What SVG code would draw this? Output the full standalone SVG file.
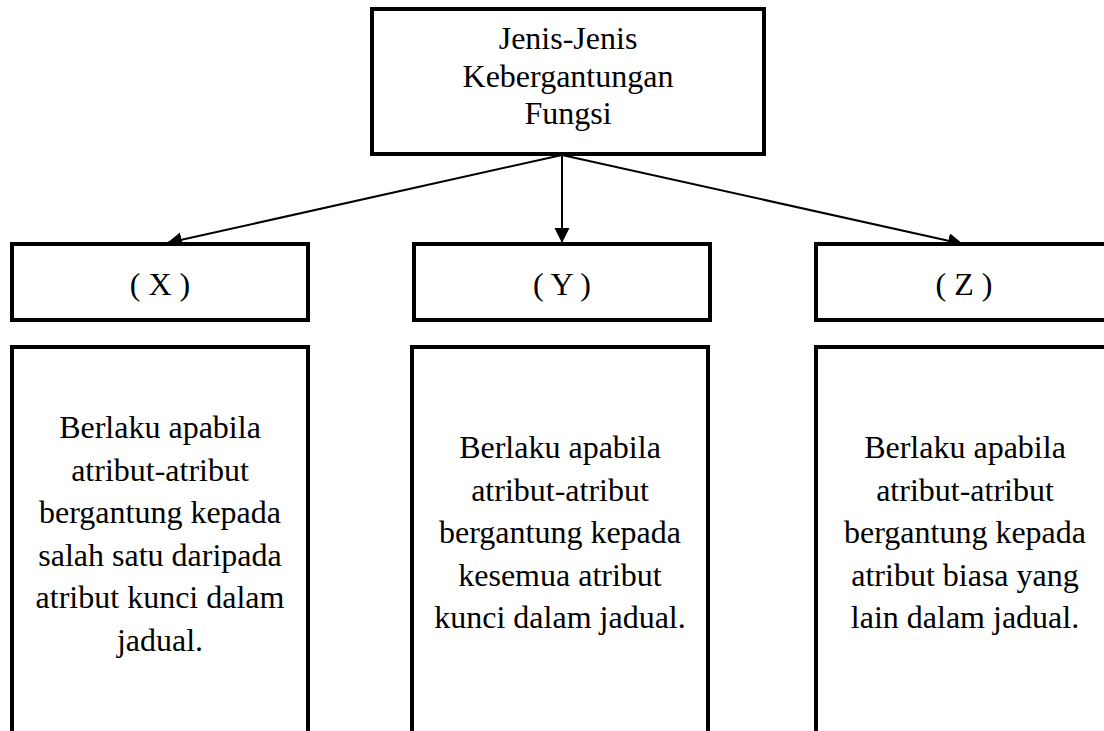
<svg xmlns="http://www.w3.org/2000/svg" width="1104" height="731" viewBox="0 0 1104 731">
<defs>
<style>
.box{fill:#fff;stroke:#000;stroke-width:4}
.t{font-family:"Liberation Serif","Times New Roman",serif;font-size:32px;fill:#000;text-anchor:middle}
.c{stroke:#000;stroke-width:2;fill:none}
</style>
<marker id="ah" markerUnits="userSpaceOnUse" markerWidth="16" markerHeight="16" refX="15" refY="7.5" orient="auto" viewBox="0 0 16 16">
<path d="M0,0 L15,7.5 L0,15 z" fill="#000"/>
</marker>
</defs>
<rect width="1104" height="731" fill="#fff"/>
<g id="root">
<rect class="box" x="372" y="9" width="392" height="145"/>
<text class="t" x="568" y="49">Jenis-Jenis</text>
<text class="t" x="568" y="87">Kebergantungan</text>
<text class="t" x="568" y="124">Fungsi</text>
</g>
<g id="connectors">
<line class="c" x1="562" y1="155" x2="167" y2="243" marker-end="url(#ah)"/>
<line class="c" x1="562" y1="155" x2="562" y2="243" marker-end="url(#ah)"/>
<line class="c" x1="562" y1="155" x2="963" y2="244" marker-end="url(#ah)"/>
</g>
<g id="x-head">
<rect class="box" x="12" y="244" width="296" height="76"/>
<text class="t" x="160" y="295">( X )</text>
</g>
<g id="y-head">
<rect class="box" x="414" y="244" width="296" height="76"/>
<text class="t" x="562" y="295">( Y )</text>
</g>
<g id="z-head">
<rect class="box" x="816" y="244" width="300" height="76"/>
<text class="t" x="964" y="295">( Z )</text>
</g>
<g id="x-desc">
<rect class="box" x="12" y="347" width="296" height="400"/>
<text class="t" x="160" y="438">Berlaku apabila</text>
<text class="t" x="160" y="481">atribut-atribut</text>
<text class="t" x="160" y="523">bergantung kepada</text>
<text class="t" x="160" y="566">salah satu daripada</text>
<text class="t" x="160" y="608">atribut kunci dalam</text>
<text class="t" x="160" y="651">jadual.</text>
</g>
<g id="y-desc">
<rect class="box" x="412" y="347" width="296" height="400"/>
<text class="t" x="560" y="458">Berlaku apabila</text>
<text class="t" x="560" y="501">atribut-atribut</text>
<text class="t" x="560" y="543">bergantung kepada</text>
<text class="t" x="560" y="586">kesemua atribut</text>
<text class="t" x="560" y="628">kunci dalam jadual.</text>
</g>
<g id="z-desc">
<rect class="box" x="816" y="347" width="300" height="400"/>
<text class="t" x="965" y="458">Berlaku apabila</text>
<text class="t" x="965" y="501">atribut-atribut</text>
<text class="t" x="965" y="543">bergantung kepada</text>
<text class="t" x="965" y="586">atribut biasa yang</text>
<text class="t" x="965" y="628">lain dalam jadual.</text>
</g>
</svg>
